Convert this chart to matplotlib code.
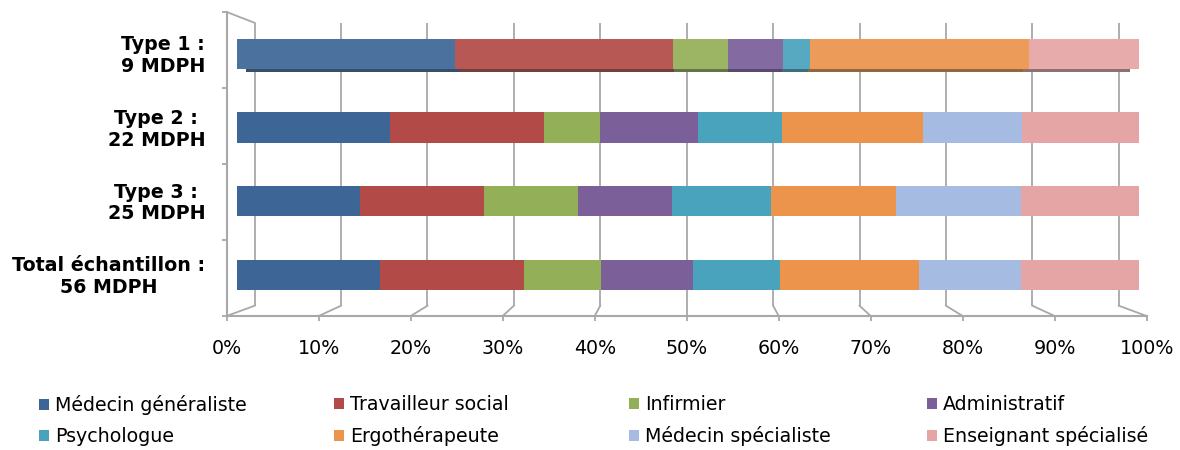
import matplotlib
matplotlib.use("Agg")
import matplotlib.pyplot as plt
import numpy as np
from matplotlib.patches import Patch
from matplotlib.colors import to_rgb

# ---- data -------------------------------------------------------------
categories = ["Type 1 :\n9 MDPH", "Type 2 :\n22 MDPH",
              "Type 3 :\n25 MDPH", "Total échantillon :\n56 MDPH"]
professions = ["Médecin généraliste", "Travailleur social", "Infirmier",
               "Administratif", "Psychologue", "Ergothérapeute",
               "Médecin spécialiste", "Enseignant spécialisé"]

medecin_generaliste = [24.2, 17.0, 13.7, 15.9]
travailleur_social = [24.2, 17.1, 13.7, 16.0]
infirmier = [6.1, 6.2, 10.4, 8.5]
administratif = [6.1, 10.9, 10.5, 10.2]
psychologue = [3.0, 9.3, 11.0, 9.6]
ergotherapeute = [24.3, 15.6, 13.8, 15.4]
medecin_specialiste = [0.0, 11.0, 13.9, 11.4]
enseignant_specialise = [12.1, 13.0, 13.0, 13.0]

tick_values = [0, 10, 20, 30, 40, 50, 60, 70, 80, 90, 100]
tick_labels = [f"{v}%" for v in tick_values]

series = [medecin_generaliste, travailleur_social, infirmier, administratif,
          psychologue, ergotherapeute, medecin_specialiste,
          enseignant_specialise]
colors = ["#3D6697", "#B24B48", "#93AF58", "#7A5F99",
          "#4AA3BC", "#EC944B", "#A6BBE2", "#E5A5A5"]

# ---- styling ----------------------------------------------------------
plt.rcParams["font.family"] = ["DejaVu Sans"]
FS = 13.7
GRID = "#A8A8A8"
W, H = 1180, 450


def lighten(c, f):
    r = np.array(to_rgb(c))
    return tuple(r + (1 - r) * f)


def darken(c, f):
    return tuple(np.array(to_rgb(c)) * f)


fig = plt.figure(figsize=(W / 100, H / 100), dpi=100)
# axes = front frame of the pseudo-3D box
left_px, right_px, top_px, bot_px = 226.7, 1146.7, 12, 316
ax = fig.add_axes([left_px / W, 1 - bot_px / H,
                   (right_px - left_px) / W, (bot_px - top_px) / H])

# front / back planes in data units (perspective of the 3D box)
FRONT_LO, FRONT_HI = -1.1, 100.9
BACK_LO, BACK_HI = 2.0, 97.8
Y_TOP, Y_BOT = -0.567, 3.56
BACK_TOP, BACK_BOT = -0.42, 3.42
ax.set_xlim(FRONT_LO, FRONT_HI)
ax.set_ylim(Y_BOT, Y_TOP)

front_x = [FRONT_LO + (FRONT_HI - FRONT_LO) * v / 100 for v in tick_values]
back_x = [BACK_LO + (BACK_HI - BACK_LO) * v / 100 for v in tick_values]

# back wall gridlines and floor edges
for fx, bx in zip(front_x, back_x):
    ax.plot([bx, bx], [BACK_TOP, BACK_BOT], color=GRID, lw=1.3,
            zorder=1, solid_capstyle="butt", clip_on=False)
    ax.plot([bx, fx], [BACK_BOT, Y_BOT], color=GRID, lw=1.3,
            zorder=1, clip_on=False)
# left wall top edge
ax.plot([FRONT_LO, BACK_LO], [Y_TOP, BACK_TOP], color=GRID, lw=1.3,
        zorder=1, clip_on=False)

# ---- bars ---------------------------------------------------------------
y = np.arange(len(categories))
bar_h = 0.41
left = np.zeros(len(categories))
for vals, col in zip(series, colors):
    vals = np.array(vals)
    row_cols = [lighten(col, 0.07)] + [col] * (len(categories) - 1)
    # underside of the first bar (seen from below)
    ax.barh(y[0] + bar_h / 2 + 0.018, vals[0] * 0.981,
            left=1.0 + left[0] * 0.981, height=0.036,
            color=darken(lighten(col, 0.15), 0.62), edgecolor="none",
            zorder=2)
    ax.barh(y, vals, left=left, height=bar_h, color=row_cols,
            edgecolor="none", zorder=3)
    left += vals

# ---- axes decoration ------------------------------------------------------
for s in ["top", "right"]:
    ax.spines[s].set_visible(False)
for s in ["left", "bottom"]:
    ax.spines[s].set_color(GRID)
    ax.spines[s].set_linewidth(1.5)

ax.set_xticks(front_x, tick_labels)
ax.tick_params(axis="x", direction="out", length=3.5, width=1.3,
               color=GRID, labelsize=FS, pad=13)

ax.set_yticks(y - 0.02, categories)
ax.tick_params(axis="y", which="major", length=0, pad=15.5, labelsize=FS)
for lab in ax.get_yticklabels():
    lab.set_fontweight("bold")
    lab.set_multialignment("center")
    lab.set_linespacing(1.18)
ax.set_yticks(np.linspace(Y_TOP, Y_BOT, 5), minor=True)
ax.tick_params(axis="y", which="minor", direction="out", length=3.5,
               width=1.3, color=GRID)

# ---- legend (4 columns with a fixed pitch) --------------------------------
handles = [Patch(facecolor=c, edgecolor="none") for c in colors]
col_x = [39, 334, 629, 927]
for k, x0 in enumerate(col_x):
    idx = [k, k + 4]
    fig.legend([handles[i] for i in idx], [professions[i] for i in idx],
               loc="upper left", bbox_to_anchor=(x0 / W, 1 - 395 / H),
               frameon=False, fontsize=FS, borderpad=0,
               borderaxespad=0, handlelength=0.55, handleheight=0.55,
               handletextpad=0.3, labelspacing=0.64)

fig.savefig("out.png", dpi=100)
